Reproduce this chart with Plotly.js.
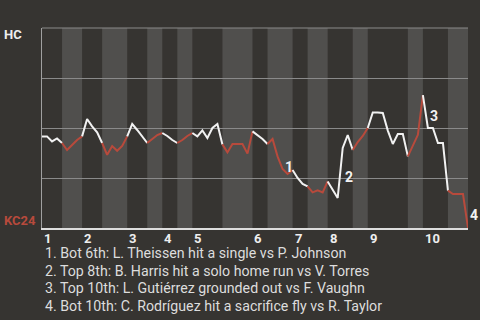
<!DOCTYPE html>
<html>
<head>
<meta charset="utf-8">
<script src="https://cdn.plot.ly/plotly-3.0.1.min.js"></script>
<style>html,body{margin:0;padding:0;background:#363431;}#chart{width:480px;height:320px;}</style>
</head>
<body>
<div id="chart"></div>
<script>
// Win probability (1 = HC, 0 = KC24) after each plate appearance
const winProb = [
  0.458, 0.458, 0.433, 0.448, 0.425, 0.39, 0.415, 0.44, 0.458, 0.545,
  0.508, 0.478, 0.425, 0.366, 0.41, 0.386, 0.41, 0.458, 0.52, 0.49,
  0.455, 0.425, 0.447, 0.465, 0.475, 0.46, 0.44, 0.425, 0.44, 0.46,
  0.475, 0.458, 0.488, 0.45, 0.50, 0.52, 0.418, 0.378, 0.42, 0.42,
  0.42, 0.372, 0.483, 0.465, 0.445, 0.42, 0.445, 0.358, 0.295, 0.27,
  0.29, 0.25, 0.22, 0.208, 0.178, 0.188, 0.178, 0.233, 0.19, 0.15,
  0.40, 0.465, 0.39, 0.43, 0.46, 0.50, 0.578, 0.578, 0.575, 0.487,
  0.42, 0.47, 0.47, 0.358, 0.416, 0.466, 0.664, 0.50, 0.50, 0.425,
  0.425, 0.187, 0.17, 0.17, 0.17, 0.0
];
// plate-appearance index where each half-inning ends
const halfInningEnds = [0, 4, 8, 12, 17, 21, 24, 27, 30, 36, 42, 45, 50, 53, 57, 62, 65, 73, 76, 81, 85];
const inningLabels = ['1','2','3','4','5','6','7','8','9','10'];
const inningStarts = [0, 8, 17, 24, 30, 42, 50, 57, 65, 76];
const eventMarks = ['1','2','3','4'];
const eventIndex = [48, 60, 77, 85];
const eventTexts = [
  '1. Bot 6th: L. Theissen hit a single vs P. Johnson',
  '2. Top 8th: B. Harris hit a solo home run vs V. Torres',
  '3. Top 10th: L. Gutiérrez grounded out vs F. Vaughn',
  '4. Bot 10th: C. Rodríguez hit a sacrifice fly vs R. Taylor'
];
const teamTop = 'HC';
const teamBottom = 'KC24';

const WHITE = '#f2f2f2', RED = '#b84a3c', BG = '#363431', BAND = '#504f4d', GRID = '#8a8a8a';
const FONT = 'Roboto, "Noto Sans", sans-serif';

const traces = [];
const shapes = [];
for (let k = 1; k < halfInningEnds.length; k++) {
  const a = halfInningEnds[k-1], b = halfInningEnds[k];
  const xs = [], ys = [];
  for (let i = a; i <= b; i++) { xs.push(i); ys.push(winProb[i]); }
  const bottomHalf = (k % 2 === 0);
  traces.push({x: xs, y: ys, mode: 'lines', type: 'scatter', hoverinfo: 'skip',
    line: {color: bottomHalf ? RED : WHITE, width: 2}});
  if (bottomHalf) {
    shapes.push({type: 'rect', xref: 'x', yref: 'paper', x0: a, x1: b, y0: 0, y1: 1,
      fillcolor: BAND, line: {width: 0}, layer: 'below'});
  }
}
// top border line (same style as gridlines)
shapes.push({type: 'line', xref: 'paper', yref: 'paper', x0: 0, x1: 1, y0: 1, y1: 1,
  line: {color: GRID, width: 1}, layer: 'below'});

const annotations = [];
inningLabels.forEach((t, j) => annotations.push({
  text: t, x: inningStarts[j], y: 0, xref: 'x', yref: 'paper', xanchor: 'left', yanchor: 'top',
  yshift: -1, xshift: 0, showarrow: false, font: {family: FONT, size: 13, color: '#eeeeee', weight: 'bold'}
}));
eventMarks.forEach((t, j) => {
  const i = eventIndex[j];
  annotations.push({text: t, x: i, y: (winProb[i] + winProb[i-1]) / 2, xref: 'x', yref: 'y',
    xanchor: 'left', yanchor: 'middle', xshift: 0, yshift: -4, showarrow: false,
    font: {family: FONT, size: 14, color: '#f2f2f2', weight: 'bold'}});
});
annotations.push({text: teamTop, x: -0.094, y: 0.97, xref: 'paper', yref: 'y', xanchor: 'left', yanchor: 'middle',
  showarrow: false, font: {family: FONT, size: 13, color: '#eeeeee', weight: 'bold'}});
annotations.push({text: teamBottom, x: -0.094, y: 0.04, xref: 'paper', yref: 'y', xanchor: 'left', yanchor: 'middle',
  showarrow: false, font: {family: FONT, size: 13, color: RED, weight: 'bold'}});
eventTexts.forEach((t, j) => annotations.push({
  text: t, x: 0.002, y: 0, xref: 'paper', yref: 'paper', xanchor: 'left', yanchor: 'middle',
  yshift: -25 - j * 17.5, showarrow: false, font: {family: FONT, size: 14.2, color: '#dddddd'}
}));

const layout = {
  width: 480, height: 320,
  margin: {l: 42, r: 12, t: 28, b: 92},
  paper_bgcolor: BG, plot_bgcolor: BG,
  showlegend: false,
  xaxis: {range: [0, halfInningEnds[halfInningEnds.length-1]], showgrid: false, zeroline: false,
    showticklabels: false, ticks: '', showline: true, linecolor: '#dddddd', linewidth: 2, fixedrange: true},
  yaxis: {range: [0, 1], dtick: 0.25, tick0: 0, showgrid: true, gridcolor: GRID, gridwidth: 1,
    zeroline: false, showticklabels: false, ticks: '', showline: true, linecolor: '#a0a0a0', linewidth: 1, fixedrange: true},
  shapes: shapes,
  annotations: annotations,
  font: {family: FONT}
};
Plotly.newPlot('chart', traces, layout, {staticPlot: true, displayModeBar: false});
</script>
</body>
</html>
